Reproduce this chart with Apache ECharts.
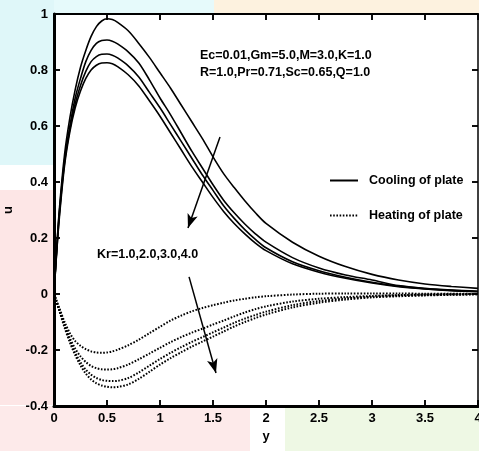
<!DOCTYPE html>
<html><head><meta charset="utf-8">
<script src="https://cdn.jsdelivr.net/npm/echarts@6/dist/echarts.min.js"></script>
<style>html,body{margin:0;padding:0;background:#fff}#c{width:479px;height:451px}</style>
</head><body><div id="c"></div>
<script>
const xs = [0,0.02,0.05,0.1,0.15,0.2,0.25,0.3,0.35,0.4,0.45,0.5,0.55,0.6,0.7,0.8,0.9,1.0,1.1,1.2,1.3,1.4,1.5,1.6,1.7,1.8,1.9,2.0,2.25,2.5,2.75,3.0,3.25,3.5,3.75,4.0];
const cool1 = [0,0.13,0.3,0.5,0.63,0.73,0.81,0.87,0.92,0.955,0.975,0.983,0.98,0.97,0.94,0.895,0.845,0.79,0.735,0.675,0.615,0.555,0.49,0.43,0.38,0.333,0.29,0.252,0.185,0.135,0.098,0.07,0.05,0.036,0.027,0.02];
const cool2 = [0,0.13,0.29,0.48,0.6,0.7,0.77,0.83,0.87,0.895,0.905,0.907,0.903,0.893,0.865,0.825,0.765,0.70,0.64,0.575,0.51,0.45,0.39,0.335,0.29,0.25,0.215,0.185,0.13,0.093,0.068,0.05,0.03,0.02,0.014,0.01];
const cool3 = [0,0.12,0.28,0.47,0.59,0.68,0.745,0.795,0.83,0.848,0.856,0.857,0.853,0.843,0.815,0.775,0.72,0.665,0.605,0.545,0.485,0.425,0.37,0.315,0.27,0.23,0.195,0.165,0.115,0.083,0.06,0.042,0.028,0.019,0.013,0.009];
const cool4 = [0,0.12,0.27,0.46,0.58,0.665,0.725,0.77,0.8,0.817,0.825,0.826,0.822,0.812,0.783,0.743,0.69,0.635,0.575,0.515,0.455,0.4,0.345,0.295,0.252,0.215,0.182,0.155,0.108,0.078,0.056,0.039,0.026,0.018,0.012,0.008];
const heat1 = [0,-0.02,-0.05,-0.1,-0.14,-0.168,-0.185,-0.197,-0.205,-0.209,-0.21,-0.209,-0.205,-0.199,-0.183,-0.163,-0.14,-0.117,-0.095,-0.077,-0.062,-0.05,-0.04,-0.031,-0.023,-0.017,-0.012,-0.008,-0.002,0.001,0.002,0.002,0.002,0.001,0.001,0];
const heat2 = [0,-0.022,-0.055,-0.11,-0.158,-0.195,-0.223,-0.243,-0.257,-0.265,-0.269,-0.27,-0.269,-0.265,-0.252,-0.233,-0.213,-0.192,-0.172,-0.154,-0.138,-0.124,-0.109,-0.095,-0.08,-0.066,-0.054,-0.044,-0.027,-0.017,-0.011,-0.007,-0.004,-0.002,-0.001,0];
const heat3 = [0,-0.024,-0.058,-0.115,-0.167,-0.21,-0.244,-0.27,-0.288,-0.3,-0.307,-0.31,-0.311,-0.31,-0.3,-0.28,-0.256,-0.232,-0.21,-0.19,-0.171,-0.154,-0.137,-0.12,-0.103,-0.088,-0.075,-0.063,-0.04,-0.025,-0.016,-0.01,-0.006,-0.004,-0.002,-0.001];
const heat4 = [0,-0.025,-0.06,-0.12,-0.173,-0.218,-0.255,-0.284,-0.305,-0.319,-0.327,-0.331,-0.333,-0.332,-0.323,-0.303,-0.278,-0.252,-0.229,-0.208,-0.188,-0.17,-0.152,-0.134,-0.116,-0.1,-0.086,-0.073,-0.048,-0.031,-0.02,-0.012,-0.008,-0.005,-0.003,-0.001];
const coolSeries = [cool1, cool2, cool3, cool4];
const heatSeries = [heat1, heat2, heat3, heat4];
const legendNames = ['Cooling of plate', 'Heating of plate'];
const xTicks = [0, 0.5, 1, 1.5, 2, 2.5, 3, 3.5, 4];
const yTicks = [-0.4, -0.2, 0, 0.2, 0.4, 0.6, 0.8, 1];
// arrows in data coordinates: [from, to]
const arrows = [[[1.566, 0.561], [1.264, 0.236]], [[1.274, 0.061], [1.528, -0.282]]];
const paramText1 = 'Ec=0.01,Gm=5.0,M=3.0,K=1.0';
const paramText2 = 'R=1.0,Pr=0.71,Sc=0.65,Q=1.0';
const krText = 'Kr=1.0,2.0,3.0,4.0';

const FONT = 'Liberation Sans, Arial, sans-serif';
const X_MIN = xTicks[0], X_MAX = xTicks[xTicks.length - 1];
const Y_MIN = yTicks[0], Y_MAX = yTicks[yTicks.length - 1];
const TICK_LEN = 6;
const pairs = ys => xs.map((x, i) => [x, ys[i]]);
const series = [];
coolSeries.forEach(ys => series.push({
  name: legendNames[0], type: 'line', data: pairs(ys), smooth: 0.3, symbol: 'none', showSymbol: false,
  lineStyle: { color: '#000', width: 1.6, type: 'solid' }, itemStyle: { color: '#000' }, silent: true
}));
heatSeries.forEach(ys => series.push({
  name: legendNames[1], type: 'line', data: pairs(ys), smooth: 0.3, symbol: 'none', showSymbol: false,
  lineStyle: { color: '#000', width: 2, type: [1.6, 1.6] }, itemStyle: { color: '#000' }, silent: true
}));
series.push({
  name: 'arrows', type: 'line', data: [], silent: true,
  markLine: {
    silent: true, symbol: ['none', 'arrow'], symbolSize: [8, 14], animation: false,
    lineStyle: { color: '#000', width: 1.5, type: 'solid' }, label: { show: false },
    data: arrows.map(a => [{ coord: a[0] }, { coord: a[1] }])
  }
});

const baseGraphic = [
  { type: 'rect', z: -10, shape: { x: 0, y: 0, width: 54, height: 165 }, style: { fill: '#dff7f9' } },
  { type: 'rect', z: -10, shape: { x: 54, y: 0, width: 160, height: 13 }, style: { fill: '#e6fafb' } },
  { type: 'rect', z: -10, shape: { x: 214, y: 0, width: 265, height: 13 }, style: { fill: '#fdf2df' } },
  { type: 'rect', z: -10, shape: { x: 0, y: 190, width: 54, height: 215 }, style: { fill: '#fde6e6' } },
  { type: 'rect', z: -10, shape: { x: 0, y: 406, width: 250, height: 45 }, style: { fill: '#fdeaea' } },
  { type: 'rect', z: -10, shape: { x: 285, y: 406, width: 194, height: 45 }, style: { fill: '#eef8e4' } },
  { type: 'text', left: 200, top: 49, style: { text: paramText1, font: 'bold 12.5px ' + FONT, fill: '#000' } },
  { type: 'text', left: 200, top: 66, style: { text: paramText2, font: 'bold 12.5px ' + FONT, fill: '#000' } },
  { type: 'text', left: 97, top: 248, style: { text: krText, font: 'bold 12.5px ' + FONT, fill: '#000' } }
];
const tickOpt = { show: true, inside: true, length: TICK_LEN, lineStyle: { color: '#000', width: 1.5 } };

const chart = echarts.init(document.getElementById('c'), null, { renderer: 'canvas' });
chart.setOption({
  animation: false,
  backgroundColor: '#fff',
  graphic: baseGraphic,
  grid: { left: 54, right: 1, top: 14, bottom: 45, show: false, outerBoundsMode: 'none', containLabel: false },
  legend: {
    data: legendNames, orient: 'vertical', left: 324, top: 169, itemWidth: 28, itemHeight: 14, itemGap: 22,
    selectedMode: false, itemStyle: { opacity: 0 },
    textStyle: { fontFamily: FONT, fontWeight: 'bold', fontSize: 12.5, color: '#000', padding: [0, 0, 0, 6] }
  },
  xAxis: [
    {
      type: 'value', position: 'bottom', min: X_MIN, max: X_MAX, interval: 0.5, name: 'y', nameLocation: 'middle', nameGap: 21,
      axisLine: { show: true, onZero: false, lineStyle: { color: '#000', width: 3 } },
      axisTick: tickOpt, splitLine: { show: false },
      nameTextStyle: { fontFamily: FONT, fontWeight: 'bold', fontSize: 13, color: '#000' },
      axisLabel: { color: '#000', fontFamily: FONT, fontWeight: 'bold', fontSize: 13, margin: 6 }
    },
    {
      type: 'value', position: 'top', min: X_MIN, max: X_MAX, interval: 0.5, axisLabel: { show: false },
      axisLine: { show: true, onZero: false, lineStyle: { color: '#000', width: 2 } },
      axisTick: tickOpt, splitLine: { show: false }
    }
  ],
  yAxis: [
    {
      type: 'value', position: 'left', min: Y_MIN, max: Y_MAX, interval: 0.2, name: 'u', nameLocation: 'middle', nameGap: 35,
      axisLine: { show: true, onZero: false, lineStyle: { color: '#000', width: 3 } },
      axisTick: tickOpt, splitLine: { show: false },
      nameTextStyle: { fontFamily: FONT, fontWeight: 'bold', fontSize: 13, color: '#000' },
      axisLabel: { color: '#000', fontFamily: FONT, fontWeight: 'bold', fontSize: 13, margin: 6 }
    },
    {
      type: 'value', position: 'right', min: Y_MIN, max: Y_MAX, interval: 0.2, axisLabel: { show: false },
      axisLine: { show: true, onZero: false, lineStyle: { color: '#000', width: 1.5 } },
      axisTick: tickOpt, splitLine: { show: false }
    }
  ],
  series: series
});

// inward tick marks on all four sides, positioned through the axes' own scales
const tickGraphic = [];
const ts = { stroke: '#000', lineWidth: 1.5 };
xTicks.forEach(v => {
  const b = chart.convertToPixel({ xAxisIndex: 0, yAxisIndex: 0 }, [v, Y_MIN]);
  const t = chart.convertToPixel({ xAxisIndex: 0, yAxisIndex: 0 }, [v, Y_MAX]);
  tickGraphic.push({ type: 'line', z: 100, silent: true, shape: { x1: b[0], y1: b[1], x2: b[0], y2: b[1] - TICK_LEN }, style: ts });
  tickGraphic.push({ type: 'line', z: 100, silent: true, shape: { x1: t[0], y1: t[1], x2: t[0], y2: t[1] + TICK_LEN }, style: ts });
});
yTicks.forEach(v => {
  const l = chart.convertToPixel({ xAxisIndex: 0, yAxisIndex: 0 }, [X_MIN, v]);
  const r = chart.convertToPixel({ xAxisIndex: 0, yAxisIndex: 0 }, [X_MAX, v]);
  tickGraphic.push({ type: 'line', z: 100, silent: true, shape: { x1: l[0], y1: l[1], x2: l[0] + TICK_LEN, y2: l[1] }, style: ts });
  tickGraphic.push({ type: 'line', z: 100, silent: true, shape: { x1: r[0], y1: r[1], x2: r[0] - TICK_LEN, y2: r[1] }, style: ts });
});
chart.setOption({ graphic: baseGraphic.concat(tickGraphic) });
</script></body></html>
